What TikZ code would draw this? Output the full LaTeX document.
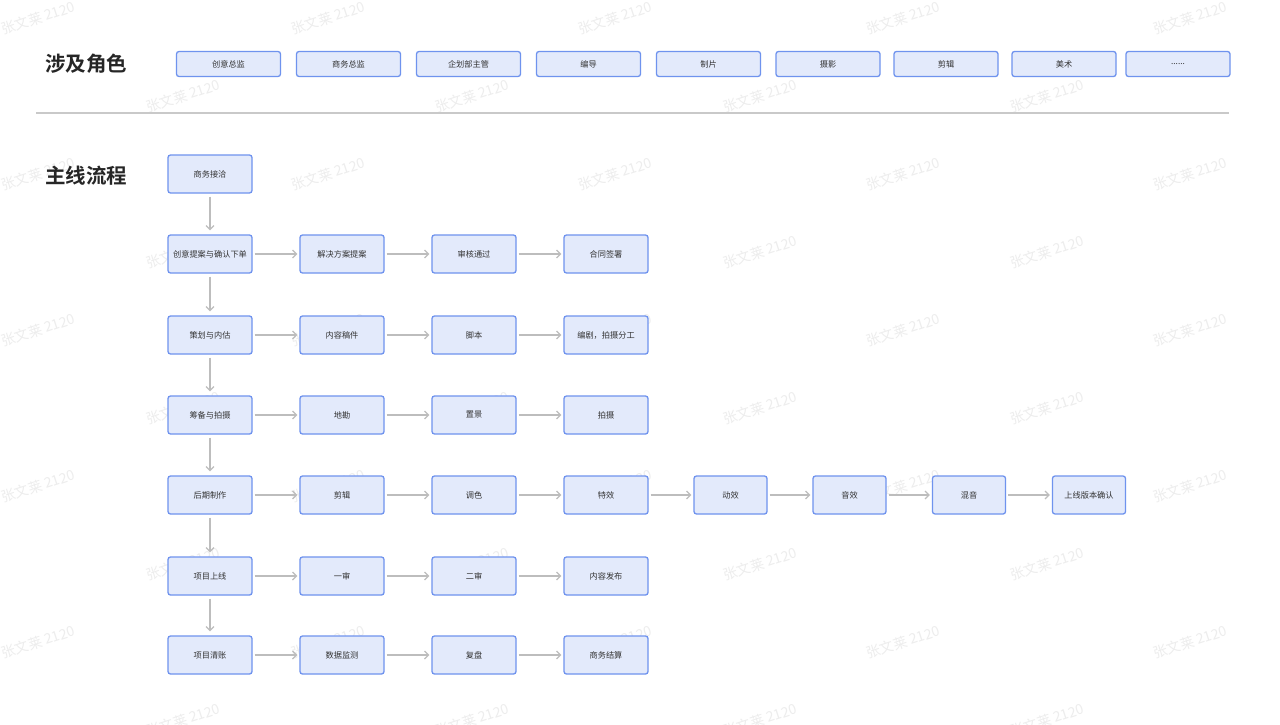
\documentclass[tikz,border=0pt]{standalone}
\usepackage{fontspec}
\newfontfamily\cjk{Noto Sans CJK SC}
\newfontfamily\cjkb{Noto Sans CJK SC Bold}
\usetikzlibrary{arrows.meta}
\definecolor{boxfill}{HTML}{E3EAFB}
\definecolor{boxline}{HTML}{6F93EE}
\definecolor{txt}{HTML}{333333}
\definecolor{arr}{HTML}{BDBDBD}
\definecolor{wm}{HTML}{EDEDED}
\definecolor{sep}{HTML}{C9C9C9}
\tikzset{
  rolebox/.style={draw=boxline, fill=boxfill, rounded corners=2.5pt, line width=1.3pt,
    minimum width=104pt, minimum height=25pt, inner sep=0pt,
    font=\cjk\fontsize{8.2}{10}\selectfont, text=txt},
  flowbox/.style={draw=boxline, fill=boxfill, rounded corners=2.5pt, line width=1.3pt,
    minimum width=84pt, minimum height=38pt, inner sep=0pt,
    font=\cjk\fontsize{8.2}{10}\selectfont, text=txt},
  smallbox/.style={flowbox, minimum width=73pt},
  heading/.style={font=\cjkb\fontsize{20.5}{24}\selectfont, text=black!85, anchor=west, inner sep=0pt},
  conn/.style={draw=arr, line width=1.2pt, -{Straight Barb[length=4pt,width=8pt]},
    shorten <=2pt, shorten >=2pt},
  wmark/.style={font=\cjk\fontsize{14}{16}\selectfont, text=wm, rotate=18, inner sep=0pt}
}
\begin{document}
\begin{tikzpicture}[x=1pt,y=-1pt]
\useasboundingbox[fill=white] (0,0) rectangle (1280,725);
% watermarks
\foreach \yy [count=\i] in {18,96,174,252,330,408,486,564,642,720}{
  \ifodd\i
    \foreach \xx in {38,328,615,903,1190}{\node[wmark] at (\xx,\yy) {张文莱 2120};}
  \else
    \foreach \xx in {183,472,760,1047}{\node[wmark] at (\xx,\yy) {张文莱 2120};}
  \fi
}
% headings
\node[heading] (h1) at (45,64) {涉及角色};
\node[heading] (h2) at (45,176) {主线流程};
\draw[sep, line width=1.2pt] (36,113) -- (1229,113);
% roles
\node[rolebox] (r1) at (228.5,64) {创意总监};
\node[rolebox] (r2) at (348.5,64) {商务总监};
\node[rolebox] (r3) at (468.5,64) {企划部主管};
\node[rolebox] (r4) at (588.5,64) {编导};
\node[rolebox] (r5) at (708.5,64) {制片};
\node[rolebox] (r6) at (828,64) {摄影};
\node[rolebox] (r7) at (946,64) {剪辑};
\node[rolebox] (r8) at (1064,64) {美术};
\node[rolebox] (r9) at (1178,64) {......};
% flow column 1
\node[flowbox] (a0) at (210,174) {商务接洽};
\node[flowbox] (a1) at (210,254) {创意提案与确认下单};
\node[flowbox] (a2) at (210,335) {策划与内估};
\node[flowbox] (a3) at (210,415) {筹备与拍摄};
\node[flowbox] (a4) at (210,495) {后期制作};
\node[flowbox] (a5) at (210,576) {项目上线};
\node[flowbox] (a6) at (210,655) {项目清账};
% row 1
\node[flowbox] (b1) at (342,254) {解决方案提案};
\node[flowbox] (c1) at (474,254) {审核通过};
\node[flowbox] (d1) at (606,254) {合同签署};
% row 2
\node[flowbox] (b2) at (342,335) {内容稿件};
\node[flowbox] (c2) at (474,335) {脚本};
\node[flowbox] (d2) at (606,335) {编剧，拍摄分工};
% row 3
\node[flowbox] (b3) at (342,415) {地勘};
\node[flowbox] (c3) at (474,415) {置景};
\node[flowbox] (d3) at (606,415) {拍摄};
% row 4
\node[flowbox] (b4) at (342,495) {剪辑};
\node[flowbox] (c4) at (474,495) {调色};
\node[flowbox] (d4) at (606,495) {特效};
\node[smallbox] (e4) at (730.5,495) {动效};
\node[smallbox] (f4) at (849.5,495) {音效};
\node[smallbox] (g4) at (969,495) {混音};
\node[smallbox] (h4) at (1089,495) {上线版本确认};
% row 5
\node[flowbox] (b5) at (342,576) {一审};
\node[flowbox] (c5) at (474,576) {二审};
\node[flowbox] (d5) at (606,576) {内容发布};
% row 6
\node[flowbox] (b6) at (342,655) {数据监测};
\node[flowbox] (c6) at (474,655) {复盘};
\node[flowbox] (d6) at (606,655) {商务结算};
% vertical connectors
\foreach \p/\q in {a0/a1,a1/a2,a2/a3,a3/a4,a4/a5,a5/a6}{\draw[conn, shorten <=3pt, shorten >=4pt] (\p) -- (\q);}
% horizontal connectors
\foreach \p/\q in {a1/b1,b1/c1,c1/d1,a2/b2,b2/c2,c2/d2,a3/b3,b3/c3,c3/d3,
  a4/b4,b4/c4,c4/d4,d4/e4,e4/f4,f4/g4,g4/h4,a5/b5,b5/c5,c5/d5,a6/b6,b6/c6,c6/d6}
  {\draw[conn] (\p) -- (\q);}
\end{tikzpicture}
\end{document}
